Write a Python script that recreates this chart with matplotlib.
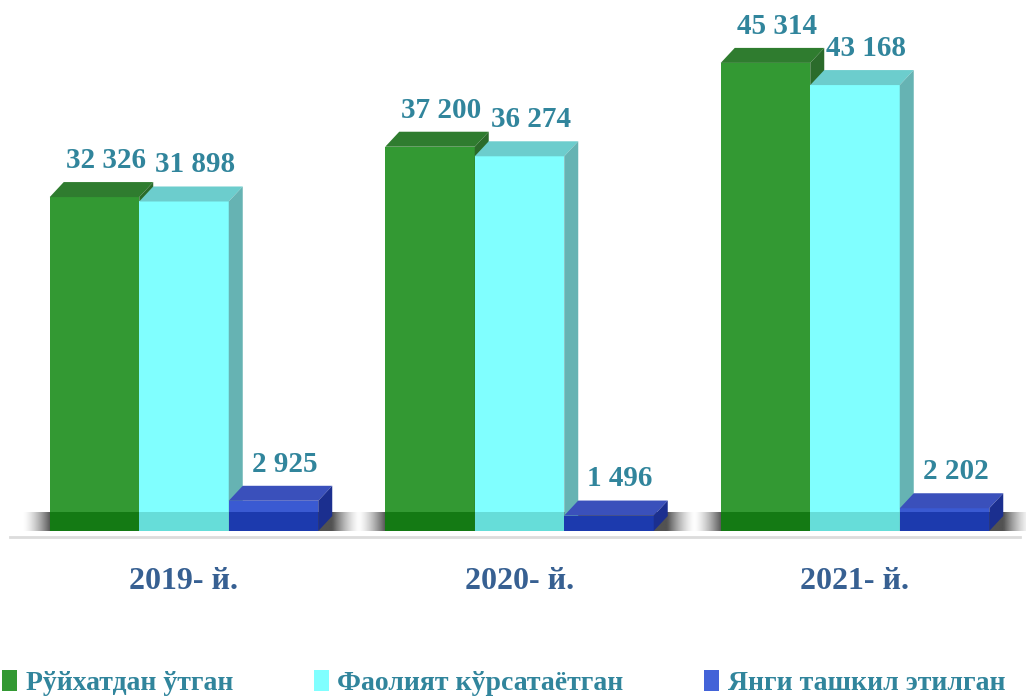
import numpy as np
import matplotlib.pyplot as plt
from matplotlib.patches import Rectangle, Polygon, Patch

# данные
years = ['2019- й.', '2020- й.', '2021- й.']
series = ['Рўйхатдан ўтган', 'Фаолият кўрсатаётган', 'Янги ташкил этилган']
registered = [32326, 37200, 45314]
active = [31898, 36274, 43168]
new_created = [2925, 1496, 2202]
values = [registered, active, new_created]

front = ['#339933', '#80ffff', '#3a5ad2']
front_low = ['#147a14', '#66ddd9', '#1c3aae']
top = ['#2f7c2f', '#6ccdcd', '#3a50bb']
side = ['#2b6b2b', '#66b3b3', '#1b2f8f']
legend_col = ['#339933', '#80ffff', '#4363d8']
label_col = '#31859c'

plt.rcParams['font.family'] = ['Liberation Serif', 'DejaVu Serif']

fig = plt.figure(figsize=(10.26, 6.97), dpi=100)
ax = fig.add_axes([0, 0.23816, 1, 0.74104])
ax.set_ylim(0, 50000)
ax.set_xlim(-0.5484, 2.5097)

px_x = 1 / 335.5              # один пиксель по x
px_y = 50000 / 516.5          # один пиксель по y
w = 89.5 * px_x
DX = 14 * px_x
DY = 15 * px_y

x = np.arange(len(years))

# тень на полу
for i in x:
    left = i - 1.5 * w
    x1 = left - 28 * px_x
    x2 = left + 3 * w + DX + 28 * px_x
    n = 200
    xs = np.linspace(0, 1, n)
    alpha = np.ones(n) * 0.85
    l = (left - x1) / (x2 - x1)
    r = (left + 3 * w + DX - x1) / (x2 - x1)
    alpha[xs < l] = (xs[xs < l] / l) ** 1.5 * 0.85
    alpha[xs > r] = ((1 - xs[xs > r]) / (1 - r)) ** 1.5 * 0.85
    img = np.zeros((1, n, 4))
    img[..., :3] = 0.2
    img[0, :, 3] = alpha
    ax.imshow(img, extent=(x1, x2, 0, DY * 1.25), aspect='auto', zorder=1,
              interpolation='bilinear')

# пол
ax.plot([-0.5484 + 10 * px_x, -0.5484 + 1020 * px_x], [-6 * px_y] * 2,
        color='#dcdcdc', lw=2, clip_on=False, zorder=0)

# столбцы
for i in x:
    for k in range(3):
        v = values[k][i]
        x0 = i + (k - 1.5) * w
        ax.add_patch(Rectangle((x0, 0), w, v, facecolor=front[k],
                               edgecolor='none', zorder=2))
        ax.add_patch(Rectangle((x0, 0), w, min(v, DY * 1.3), facecolor=front_low[k],
                               edgecolor='none', zorder=2))
        ax.add_patch(Polygon([(x0, v), (x0 + w, v), (x0 + w + DX, v + DY),
                              (x0 + DX, v + DY)], closed=True,
                             facecolor=top[k], edgecolor='none', zorder=2))
        ax.add_patch(Polygon([(x0 + w, 0), (x0 + w + DX, DY), (x0 + w + DX, v + DY),
                              (x0 + w, v)], closed=True,
                             facecolor=side[k], edgecolor='none', zorder=2))
        ax.annotate(f'{v:,}'.replace(',', ' '), xy=(x0 + w / 2, v),
                    xytext=(8, 21), textcoords='offset points',
                    ha='center', va='baseline', fontsize=21,
                    fontweight='bold', color=label_col, zorder=3)

ax.set_xticks(x, years)
ax.tick_params(axis='x', length=0, pad=26, labelsize=23, labelcolor='#376092')
for t in ax.get_xticklabels():
    t.set_fontweight('bold')
ax.set_yticks([])
for s in ax.spines.values():
    s.set_visible(False)
ax.patch.set_alpha(0)

handles = [Patch(facecolor=c, edgecolor='none') for c in legend_col]
leg = fig.legend(handles, series, loc='lower left', bbox_to_anchor=(0.002, 0.001),
                 ncol=3, frameon=False, fontsize=20, handlelength=0.55,
                 handleheight=0.75, handletextpad=0.3, columnspacing=2.9,
                 borderpad=0, borderaxespad=0)
for t in leg.get_texts():
    t.set_color(label_col)
    t.set_fontweight('bold')

fig.savefig('out.png', dpi=100)
